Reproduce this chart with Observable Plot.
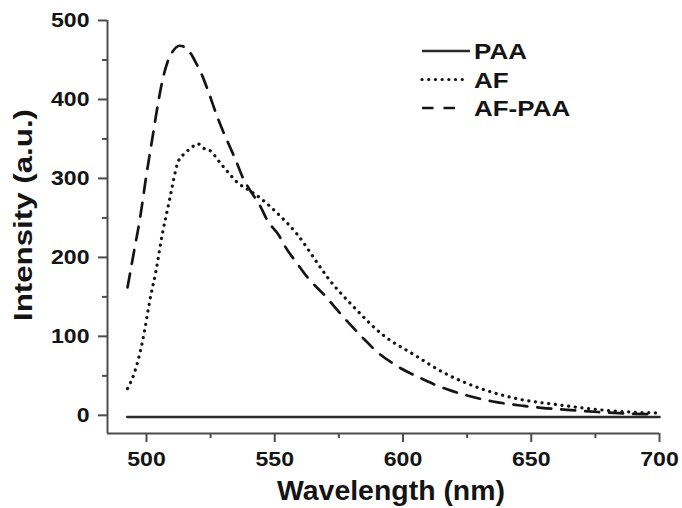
<!DOCTYPE html>
<html><head><meta charset="utf-8">
<script src="https://cdn.jsdelivr.net/npm/d3@7"></script>
<script src="https://cdn.jsdelivr.net/npm/@observablehq/plot@0.6"></script>
<style>
body{margin:0;background:#fff;}
#chart{position:relative;width:682px;height:508px;}
</style></head><body><div id="chart"></div>
<script>
// ---- data ----
const seriesNames = ["PAA", "AF", "AF-PAA"];

const paaWavelength = [492.5, 520, 550, 600, 650, 700];
const paaIntensity  = [-2, -2, -2, -2, -2, -2];

const afWavelength = [492.6, 495.2, 498.4, 501.7, 503.6, 506.2, 508.8, 509.5, 512.1, 514.6, 517.2, 519.9, 522.4, 524.4, 528.9, 532.8, 535.4, 540, 543.2, 551, 558.8, 566.6, 570.5, 580, 592.5, 604.2, 615.9, 630.2, 643.1, 661.3, 682.1, 699];
const afIntensity  = [34, 53, 93, 152, 181, 230, 270, 281, 319, 331, 338, 344, 338, 336, 319, 304, 295, 285, 278, 256, 229, 193, 175, 140, 101, 77, 54, 34, 22, 13, 5.5, 3];

const afpaaWavelength = [492.6, 495, 497.5, 500, 502.5, 504.5, 506.5, 508.5, 510.5, 513, 515, 517.5, 519.5, 521.5, 524, 527.6, 530.2, 532.8, 534.8, 538, 540, 544.5, 547.1, 551.6, 554.2, 558.8, 562.7, 570, 575, 580, 585, 590, 596, 600, 607, 613, 619, 624, 630, 635, 642, 647, 654, 664, 676, 689, 699];
const afpaaIntensity  = [162, 205, 250, 305, 355, 395, 428, 450, 462, 468, 466, 457, 445, 432, 411, 378, 357, 338, 323, 298, 287, 264, 247, 228, 213, 192, 175, 150, 131, 113, 96, 80, 66, 58, 47, 38, 31, 26, 21, 17.5, 14, 12, 9.5, 7, 4.2, 2, 1.3];

const xTicks = [500, 550, 600, 650, 700];
const xMinorTicks = [525, 575, 625, 675];
const yTicks = [0, 100, 200, 300, 400, 500];
const yMinorTicks = [50, 150, 250, 350, 450];
const xTitle = "Wavelength (nm)";
const yTitle = "Intensity (a.u.)";
const xDomain = [484.8, 700];
const yDomain = [-23, 500];

// ---- build rows ----
const toRows = (name, xs, ys) => xs.map((x, i) => ({series: name, wavelength: x, intensity: ys[i]}));
const paaRows = toRows(seriesNames[0], paaWavelength, paaIntensity);
const afRows = toRows(seriesNames[1], afWavelength, afIntensity);
const afpaaRows = toRows(seriesNames[2], afpaaWavelength, afpaaIntensity);

const ink = "#141414";
const axisInk = "#4d4d4d";
const font = "'Liberation Sans', Arial, sans-serif";

const styles = {
  "PAA":    {stroke: "#2a2a2a", strokeWidth: 2.5, dash: null, cap: "butt"},
  "AF":     {stroke: ink, strokeWidth: 3.2, dash: "0.1 6.6", cap: "round"},
  "AF-PAA": {stroke: ink, strokeWidth: 2.7, dash: "14 10", cap: "butt"}
};

const plot = Plot.plot({
  width: 682, height: 508,
  marginLeft: 107, marginRight: 23, marginTop: 20, marginBottom: 75,
  style: {fontFamily: font, fontSize: "21px", fontWeight: "bold", color: ink, background: "#fff"},
  x: {domain: xDomain},
  y: {domain: yDomain},
  marks: [
    Plot.axisX(xTicks, {tickSize: 9, tickPadding: 9, strokeWidth: 2, stroke: axisInk, fill: ink, label: null, tickFormat: d => String(d)}),
    Plot.axisX(xMinorTicks, {tickSize: 5, strokeWidth: 2, stroke: axisInk, label: null, tickFormat: () => ""}),
    Plot.axisY(yTicks, {tickSize: 9, tickPadding: 9, strokeWidth: 2, stroke: axisInk, fill: ink, label: null, tickFormat: d => String(d)}),
    Plot.axisY(yMinorTicks, {tickSize: 5, strokeWidth: 2, stroke: axisInk, label: null, tickFormat: () => ""}),
    Plot.ruleX([xDomain[0]], {y1: yDomain[0], y2: yTicks[yTicks.length - 1], stroke: axisInk, strokeWidth: 2}),
    Plot.ruleY([yDomain[0]], {x1: xDomain[0], x2: xTicks[xTicks.length - 1], stroke: axisInk, strokeWidth: 2}),
    Plot.line(paaRows, {x: "wavelength", y: "intensity", stroke: styles["PAA"].stroke, strokeWidth: styles["PAA"].strokeWidth}),
    Plot.line(afRows, {x: "wavelength", y: "intensity", stroke: styles["AF"].stroke, strokeWidth: styles["AF"].strokeWidth,
      strokeDasharray: styles["AF"].dash, strokeLinecap: "round", curve: "monotone-x"}),
    Plot.line(afpaaRows, {x: "wavelength", y: "intensity", stroke: styles["AF-PAA"].stroke, strokeWidth: styles["AF-PAA"].strokeWidth,
      strokeDasharray: styles["AF-PAA"].dash, curve: "monotone-x"})
  ]
});
document.getElementById("chart").appendChild(plot);

const svg = d3.select(plot);

// widen tick labels like the reference's broad bold face
svg.selectAll("g[aria-label='x-axis tick label'] text, g[aria-label='y-axis tick label'] text").each(function() {
  const len = this.getComputedTextLength();
  if (len > 0) d3.select(this).attr("textLength", len * 1.1).attr("lengthAdjust", "spacingAndGlyphs");
});

// axis titles
svg.append("text")
  .attr("x", 391).attr("y", 500)
  .attr("text-anchor", "middle").attr("font-size", 27).attr("font-weight", "bold").attr("fill", ink)
  .attr("textLength", 228).attr("lengthAdjust", "spacingAndGlyphs")
  .text(xTitle);
svg.append("text")
  .attr("transform", "translate(32,215) rotate(-90)")
  .attr("text-anchor", "middle").attr("font-size", 26).attr("font-weight", "bold").attr("fill", ink)
  .attr("textLength", 212).attr("lengthAdjust", "spacingAndGlyphs")
  .text(yTitle);

// legend
const legendSampleLen = {"PAA": 48, "AF": 41, "AF-PAA": 33};
const legendDash = {"PAA": null, "AF": "0.1 6.6", "AF-PAA": "11.5 10"};
const legend = svg.append("g").attr("transform", "translate(422,51)");
seriesNames.forEach((name, i) => {
  const row = legend.append("g").attr("transform", `translate(0,${i * 28.5})`);
  const st = styles[name];
  row.append("line")
    .attr("x1", 0).attr("x2", legendSampleLen[name]).attr("y1", 0).attr("y2", 0)
    .attr("stroke", st.stroke).attr("stroke-width", st.strokeWidth)
    .attr("stroke-linecap", st.cap)
    .attr("stroke-dasharray", legendDash[name]);
  const t = row.append("text")
    .attr("x", 52).attr("y", 8)
    .attr("text-anchor", "start")
    .attr("font-size", 22).attr("font-weight", "bold").attr("fill", ink)
    .text(name);
  const len = t.node().getComputedTextLength();
  t.attr("textLength", len * 1.18).attr("lengthAdjust", "spacingAndGlyphs");
});
</script></body></html>
